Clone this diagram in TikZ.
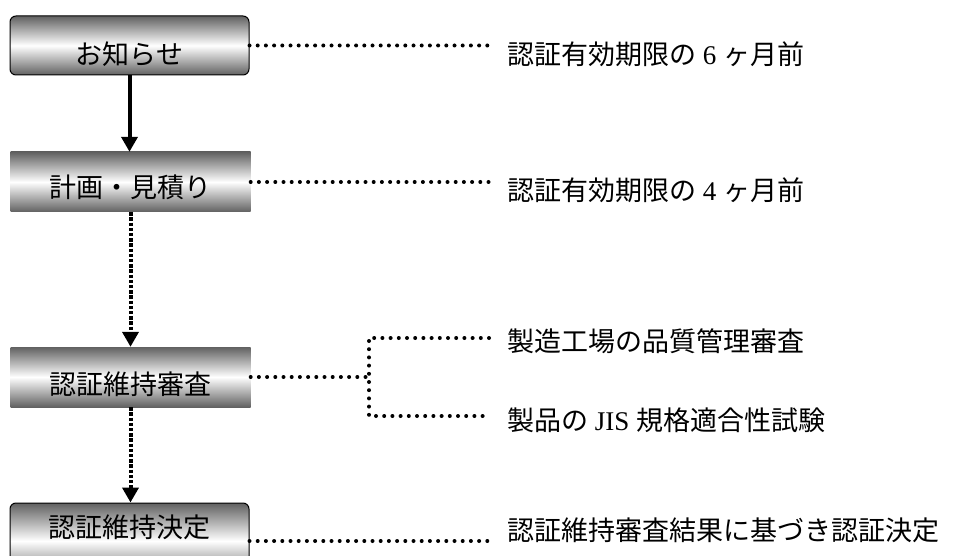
\documentclass[tikz,border=0pt]{standalone}
\usepackage{fontspec}
\setmainfont{Liberation Serif}
\newfontfamily\jp{Noto Sans CJK JP}
\usetikzlibrary{arrows.meta}

\begin{document}
\begin{tikzpicture}[x = 1pt, y = -1pt,
		stepbox/.style = {minimum width = 240pt, minimum height = 60pt, inner sep = 0pt,
			top color = black!62, bottom color = black!62, middle color = white,
			font = \fontsize{27}{32}\selectfont\jp},
		roundframe/.style = {draw = black, line width = 1pt, rounded corners = 6pt},
		drop/.style = {text height = #1, text depth = 0pt},
		note/.style = {anchor = west, inner xsep = 18pt, inner ysep = 0pt,
			text height = 23pt, text depth = 4pt, font = \fontsize{27}{32}\selectfont},
		leader/.style = {line width = 4pt, line cap = round, dash pattern = on 0pt off 8.2pt},
		flow/.style = {line width = 4pt, -{Triangle[width = 16pt, length = 15pt]}},
		flowdots/.style = {flow, line width = 4pt, dash pattern = on 3.4pt off 1.8pt}
	]
		\path [use as bounding box, clip] (0,0) rectangle (956,556);

		% steps
		\node [stepbox, roundframe, drop = 38.6pt, minimum width = 239pt, minimum height = 59pt]
			(notice) at (129.5,45.5) {お知らせ};
		\node [stepbox, drop = 30.6pt] (plan) at (130.5,182) {計画・見積り};
		\node [stepbox, drop = 34.6pt] (review) at (130.5,377) {認証維持審査};
		\node [stepbox, roundframe, text height = 0pt, text depth = 7.4pt, minimum width = 239pt,
			minimum height = 76pt] (decide) at (129.5,541) {認証維持決定};

		% notes
		\node [note] (six) at (489,55) {{\jp 認証有効期限の} 6 {\jp ヶ月前}};
		\node [note] (four) at (489,191) {{\jp 認証有効期限の} 4 {\jp ヶ月前}};
		\node [note] (factory) at (489,342) {{\jp 製造工場の品質管理審査}};
		\node [note] (jis) at (489,421) {{\jp 製品の} JIS {\jp 規格適合性試験}};
		\node [note] (result) at (489,531) {{\jp 認証維持審査結果に基づき認証決定}};

		\coordinate (forktop) at (369,338);
		\coordinate (forkbot) at (369,416);

		% flow
		\draw [flow] (notice.south) -- (notice.south |- plan.north);
		\draw [flowdots] (plan.south) -- (review.north);
		\draw [flowdots] (review.south) -- (review.south |- decide.north);

		% leaders
		\draw [leader] (notice.east) -- (notice.east -| six.west);
		\draw [leader] (plan.east) -- (plan.east -| four.west);
		\draw [leader] (review.east) -- (review.east -| forktop);
		\draw [leader] (forktop -| factory.west) -- (forktop) -- (forkbot) -- (forkbot -| jis.west);
		\draw [leader] (decide.east) -- (decide.east -| result.west);
	\end{tikzpicture}
\end{document}
